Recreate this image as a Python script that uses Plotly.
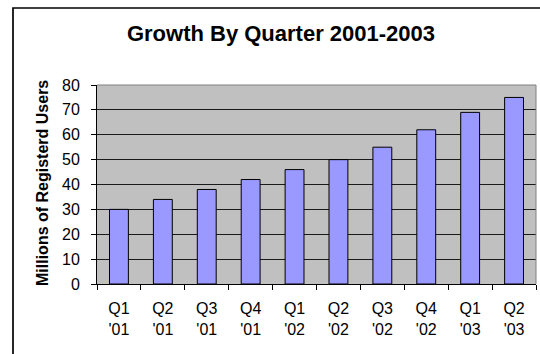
import plotly.graph_objects as go

# Registered users by quarter (millions)
quarters = ["Q1<br>'01", "Q2<br>'01", "Q3<br>'01", "Q4<br>'01",
            "Q1<br>'02", "Q2<br>'02", "Q3<br>'02", "Q4<br>'02",
            "Q1<br>'03", "Q2<br>'03"]
users_millions = [30, 34, 38, 42, 46, 50, 55, 62, 69, 75]
y_ticks = [0, 10, 20, 30, 40, 50, 60, 70, 80]

W, H = 540, 354
ML, MR, MT, MB = 97, 4, 85, 70
PW, PH = W - ML - MR, H - MT - MB


def px_x(px):
    return (px - ML) / PW


def px_y(py):
    return (H - MB - py) / PH


fig = go.Figure(
    go.Bar(
        x=quarters,
        y=users_millions,
        marker=dict(color="#9999FF", line=dict(color="#000000", width=1)),
    )
)

fig.update_layout(
    width=W,
    height=H,
    margin=dict(l=ML, r=MR, t=MT, b=MB),
    paper_bgcolor="white",
    plot_bgcolor="#C0C0C0",
    bargap=0.57,
    showlegend=False,
    font=dict(family="Liberation Sans, Arial, sans-serif", color="black"),
    title=dict(
        text="<b>Growth By Quarter 2001-2003</b>",
        x=281 / W,
        xanchor="center",
        y=1 - 33 / H,
        yanchor="middle",
        font=dict(size=22, color="black"),
    ),
    xaxis=dict(
        type="category",
        tickson="boundaries",
        ticks="outside",
        ticklen=5,
        tickcolor="black",
        showline=True,
        linecolor="black",
        linewidth=1,
        showgrid=False,
        tickfont=dict(size=16),
        ticklabelstandoff=10,
    ),
    yaxis=dict(
        range=[0, 80],
        tickvals=y_ticks,
        ticks="outside",
        ticklen=5,
        tickcolor="black",
        showline=True,
        linecolor="black",
        linewidth=1,
        showgrid=True,
        gridcolor="#1a1a1a",
        gridwidth=1,
        zeroline=False,
        tickfont=dict(size=16),
        ticklabelstandoff=8,
    ),
    annotations=[
        dict(
            text="<b>Millions of Registerd Users</b>",
            textangle=-90,
            xref="paper",
            yref="paper",
            x=px_x(42),
            y=px_y(183),
            xanchor="center",
            yanchor="middle",
            showarrow=False,
            font=dict(size=16, color="black"),
        )
    ],
    shapes=[
        # outer chart frame
        dict(type="rect", xref="paper", yref="paper",
             x0=px_x(13), y0=px_y(H + 20), x1=px_x(W + 20), y1=px_y(8),
             line=dict(color="black", width=1.7), layer="above"),
        # plot-area border, top and right
        dict(type="line", xref="paper", yref="paper",
             x0=0, y0=1, x1=1, y1=1,
             line=dict(color="#808080", width=1), layer="above"),
        dict(type="line", xref="paper", yref="paper",
             x0=1, y0=0, x1=1, y1=1,
             line=dict(color="#808080", width=1), layer="above"),
    ],
)

fig.write_html("out.html")
